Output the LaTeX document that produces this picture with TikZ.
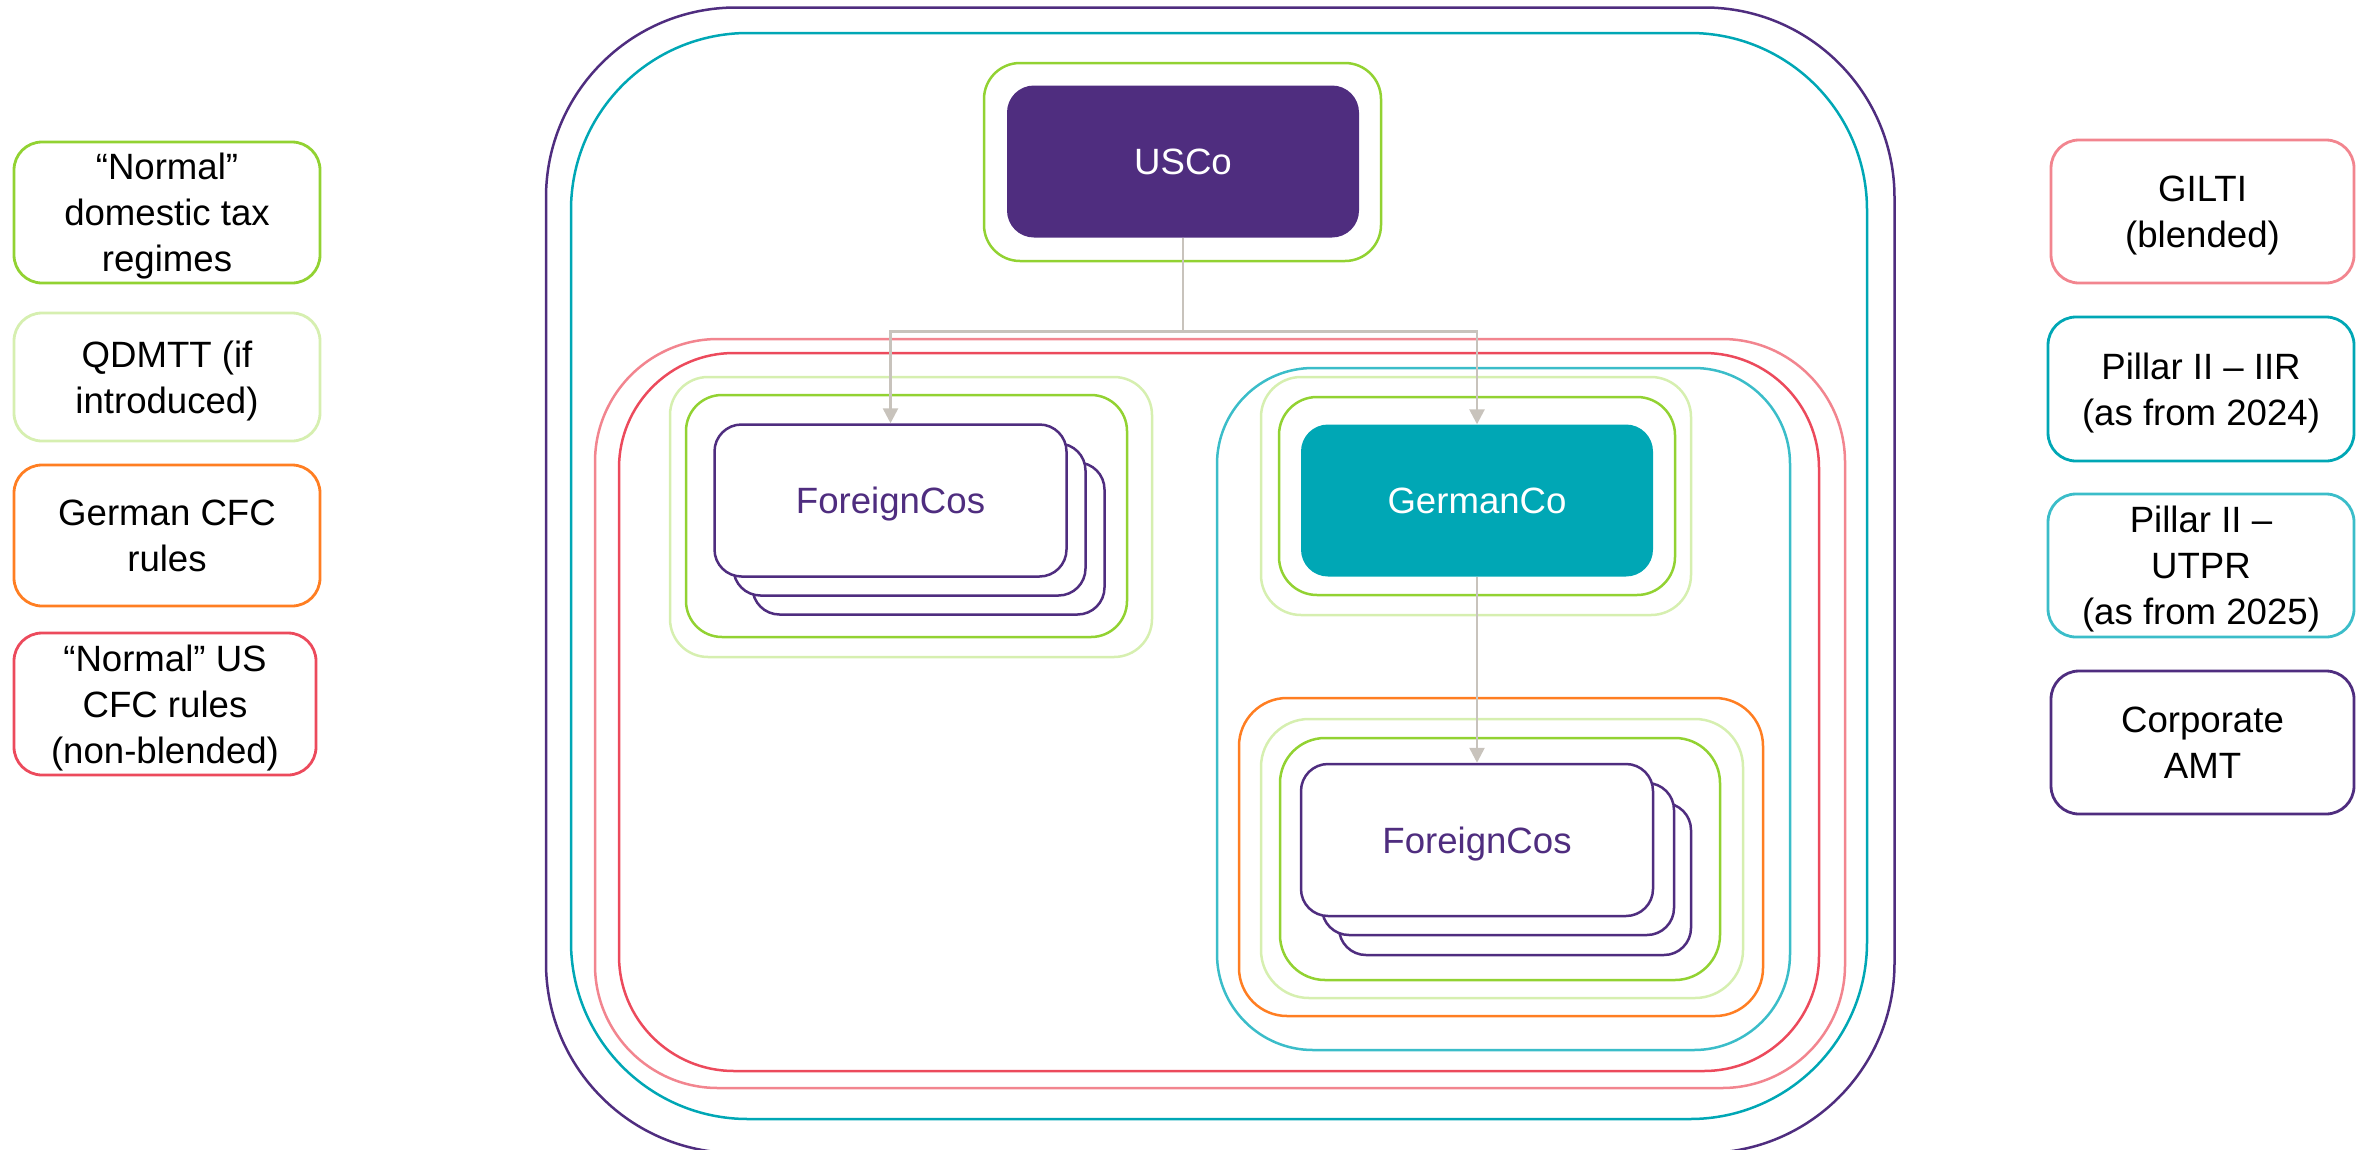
\documentclass[tikz,border=0pt]{standalone}
\usepackage{fontspec}
\setmainfont{Liberation Sans}
\usetikzlibrary{arrows.meta}

% regime colours
\definecolor{amt}{HTML}{4F2D7F}
\definecolor{iir}{HTML}{00A7B5}
\definecolor{utpr}{HTML}{3BBDC9}
\definecolor{gilti}{HTML}{F2858F}
\definecolor{uscfc}{HTML}{EC4A5C}
\definecolor{gcfc}{HTML}{FF7E22}
\definecolor{dom}{HTML}{92D232}
\definecolor{qdmtt}{HTML}{D6EFB0}
\definecolor{connc}{HTML}{C8C3BC}

% rounded frame with true circular corners: left, top, right, bottom, radius
% (the y axis points downwards in this picture)
\newcommand\regimeframe[5]{%
  (#1,#2+#5) arc[start angle=180,end angle=270,radius=#5]
  -- (#3-#5,#2) arc[start angle=270,end angle=360,radius=#5]
  -- (#3,#4-#5) arc[start angle=0,end angle=90,radius=#5]
  -- (#1+#5,#4) arc[start angle=90,end angle=180,radius=#5] -- cycle}

\tikzset{
  ringline/.style={line width=2.5pt, line cap=round, line join=round},
  legendbox/.style={draw, line width=2.8pt, rounded corners=28pt, fill=white,
    align=center, text=black, inner sep=0pt, text depth=0pt,
    font=\fontsize{36.6}{46}\selectfont},
  entity/.style={rounded corners=27pt, minimum width=352pt, minimum height=152pt,
    inner sep=0pt, text depth=0pt, font=\fontsize{36.6}{44}\selectfont},
  card/.style={entity, draw=amt, line width=2.5pt, fill=white, text=amt},
  arrowline/.style={draw=connc, line width=2.6pt,
    -{Triangle[length=15pt,width=15pt]}},
}

\begin{document}
\begin{tikzpicture}[x=1pt,y=-1pt]
\useasboundingbox (0,0) rectangle (2367,1149);
\clip (0,0) rectangle (2367,1149);

% ---- nested regime frames ----
\draw[ringline, amt]   \regimeframe{546}{7.5}{1894.5}{1153}{190};
\draw[ringline, iir]   \regimeframe{571}{33}{1867}{1119}{177};
\draw[ringline, gilti] \regimeframe{595}{339}{1845}{1088}{123};
\draw[ringline, uscfc] \regimeframe{619}{353}{1819}{1071}{115};
\draw[ringline, utpr]  \regimeframe{1217}{368}{1790}{1050}{96};

% left subsidiary group
\draw[ringline, qdmtt] \regimeframe{670}{377}{1152}{657}{38};
\draw[ringline, dom]   \regimeframe{686}{395}{1127}{637}{36};

% German parent group
\draw[ringline, qdmtt] \regimeframe{1261}{377}{1691}{615}{40};
\draw[ringline, dom]   \regimeframe{1279}{397}{1675}{595}{38};

% German subsidiaries
\draw[ringline, gcfc]  \regimeframe{1239}{698}{1763}{1016}{48};
\draw[ringline, qdmtt] \regimeframe{1261}{719}{1743}{998}{48};
\draw[ringline, dom]   \regimeframe{1280}{738}{1720}{980}{45};

% US parent
\draw[ringline, dom]   \regimeframe{984}{63}{1381}{261}{36};

% ---- entities ----
\node[entity, fill=amt, text=white] (usco) at (1183,161.5) {USCo};
\node[entity, fill=iir, text=white] (german) at (1477,500.5) {GermanCo};

\node[card] (fcAback2) at (928.5,538.5) {};
\node[card] (fcAback1) at (909.5,519.5) {};
\node[card] (fcA) at (890.5,500.5) {ForeignCos};

\node[card] (fcBback2) at (1515,879) {};
\node[card] (fcBback1) at (1498,859) {};
\node[card] (fcB) at (1477,840) {ForeignCos};

% ---- ownership arrows ----
\draw[arrowline] (usco.south) -- ++(0,94) -| (fcA.north);
\draw[arrowline] (usco.south) -- ++(0,94) -| (german.north);
\draw[arrowline] (german.south) -- (fcB.north);

% ---- legend ----
\node[legendbox, draw=dom,   minimum width=306pt, minimum height=141pt] (ldom)   at (167,212.5) {“Normal”\\domestic tax\\regimes};
\node[legendbox, draw=qdmtt, minimum width=306pt, minimum height=128pt] (lqdmtt) at (167,377) {QDMTT (if\\introduced)};
\node[legendbox, draw=gcfc,  minimum width=306pt, minimum height=141pt] (lgcfc)  at (167,535.5) {German CFC\\rules};
\node[legendbox, draw=uscfc, minimum width=302pt, minimum height=142pt] (luscfc) at (165,704) {“Normal” US\\CFC rules\\(non-blended)};

\node[legendbox, draw=gilti, minimum width=303pt, minimum height=143pt] (rgilti) at (2202.5,211.5) {GILTI\\(blended)};
\node[legendbox, draw=iir,   minimum width=306pt, minimum height=144pt] (riir)   at (2201,389) {Pillar II – IIR\\(as from 2024)};
\node[legendbox, draw=utpr,  minimum width=306pt, minimum height=143pt] (rutpr)  at (2201,565.5) {Pillar II –\\UTPR\\(as from 2025)};
\node[legendbox, draw=amt,   minimum width=303pt, minimum height=143pt] (ramt)   at (2202.5,742.5) {Corporate\\AMT};
\end{tikzpicture}
\end{document}
